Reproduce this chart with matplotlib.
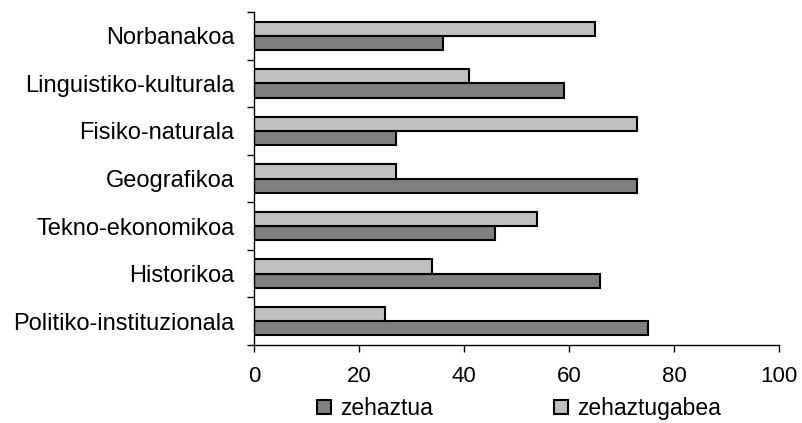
import numpy as np
import matplotlib.pyplot as plt
from matplotlib.ticker import FixedLocator

plt.rcParams['font.family'] = ['Liberation Sans', 'DejaVu Sans']

# Data (top to bottom as shown)
categories = ['Norbanakoa', 'Linguistiko-kulturala', 'Fisiko-naturala', 'Geografikoa',
              'Tekno-ekonomikoa', 'Historikoa', 'Politiko-instituzionala']
zehaztua = [36, 59, 27, 73, 46, 66, 75]
zehaztugabea = [65, 41, 73, 27, 54, 34, 25]

dark = '#808080'
light = '#C0C0C0'

fig = plt.figure(figsize=(8.02, 4.23), dpi=100)
ax = fig.add_axes([0.3167, 0.1844, 0.6546, 0.7872])

y = np.arange(len(categories))
h = 0.3
ax.barh(y + h / 2, zehaztua, height=h, color=dark, edgecolor='black', linewidth=1.5, label='zehaztua')
ax.barh(y - h / 2, zehaztugabea, height=h, color=light, edgecolor='black', linewidth=1.5, label='zehaztugabea')

ax.set_xlim(0, 100)
ax.set_ylim(len(categories) - 0.5, -0.5)
ax.set_xticks([0, 20, 40, 60, 80, 100])
ax.set_yticks(y)
ax.set_yticklabels(categories)
ax.yaxis.set_minor_locator(FixedLocator(np.arange(-0.5, len(categories), 1)))

ax.tick_params(axis='y', which='major', length=0, pad=14, labelsize=17)
ax.tick_params(axis='y', which='minor', length=5, width=1)
ax.tick_params(axis='x', length=5, width=1, labelsize=16, pad=10)

for s in ['top', 'right']:
    ax.spines[s].set_visible(False)
ax.spines['left'].set_linewidth(1)
ax.spines['bottom'].set_linewidth(1)

handles, labels = ax.get_legend_handles_labels()
fig.legend(handles, labels, loc='center', bbox_to_anchor=(0.647, 0.034), ncol=2,
           frameon=False, fontsize=16.5, handlelength=0.6, handleheight=0.6,
           handletextpad=0.4, columnspacing=5.3, borderpad=0)

fig.savefig('out.png', dpi=100)
